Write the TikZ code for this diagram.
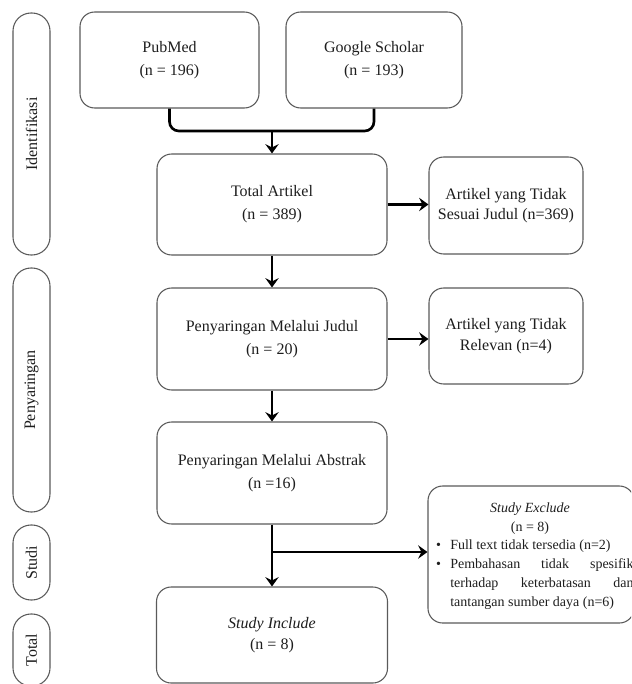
\documentclass[tikz,border=0pt]{standalone}
\usepackage{fontspec}
\setmainfont{Liberation Serif}
\usetikzlibrary{arrows.meta}
\definecolor{boxgray}{HTML}{5A5A5A}
\definecolor{txt}{HTML}{1E1E1E}
\begin{document}
\begin{tikzpicture}[x=0.75pt,y=-0.75pt,
  box/.style={draw=boxgray, line width=0.8pt, rounded corners=11pt, align=center, inner sep=2pt, text=txt, font=\fontsize{12}{17.25}\selectfont},
  sidebox/.style={box, font=\fontsize{12}{15.5}\selectfont},
  pill/.style={draw=boxgray, line width=0.8pt, rounded corners=13.5pt, rotate=90, minimum height=27.75pt, inner sep=0pt, text=txt, font=\fontsize{12}{14}\selectfont},
  smalltext/.style={text=txt, inner sep=0pt, font=\fontsize{10.5}{14.25}\selectfont},
  arr/.style={line width=2pt, -{Stealth[length=7pt,width=10pt,inset=2.5pt]}},
  link/.style={line width=2pt, rounded corners=7pt}]
\useasboundingbox (0,0) rectangle (631,684);
\fill[white] (0,0) rectangle (631,684);
\clip (0,0) rectangle (631,684);

% side lanes
\node[pill, minimum width=181.5pt] (lid) at (31.5,134) {Identifikasi};
\node[pill, minimum width=183pt] (lpe) at (31.5,390) {Penyaringan};
\node[pill, minimum width=56.25pt] (lst) at (31.5,562.5) {Studi};
\node[pill, minimum width=54pt] (lto) at (31.5,650) {Total};

% boxes
\node[box, minimum width=134.25pt, minimum height=72pt] (pub) at (169.5,60) {PubMed\\(n = 196)};
\node[box, minimum width=132pt, minimum height=72pt] (gs) at (374,60) {Google Scholar\\(n = 193)};
\node[box, minimum width=172.5pt, minimum height=75.75pt] (total) at (272,204.5) {Total Artikel\\(n = 389)};
\node[sidebox, minimum width=115.5pt, minimum height=72.75pt] (tidak) at (506,205.5) {Artikel yang Tidak\\Sesuai Judul (n=369)};
\node[box, minimum width=172.5pt, minimum height=76.5pt] (judul) at (272,339) {Penyaringan Melalui Judul\\(n = 20)};
\node[sidebox, minimum width=115.5pt, minimum height=72pt] (relevan) at (506,336) {Artikel yang Tidak\\Relevan (n=4)};
\node[box, minimum width=172.5pt, minimum height=76.5pt] (abstrak) at (272,473) {Penyaringan Melalui Abstrak\\(n =16)};
\node[sidebox, minimum width=173.25pt, minimum height=72pt] (include) at (272,635) {\textit{Study Include}\\(n = 8)};

% exclude box
\node[draw=boxgray, line width=0.8pt, rounded corners=11pt, minimum width=154.5pt, minimum height=102.75pt] (ex) at (531,554.5) {};
\node[smalltext, align=center] (extitle) at (530,518.5) {\textit{Study Exclude}\\(n = 8)};
\node[smalltext, anchor=north west, text width=137.5pt, align=justify] (exlist) at (450,540)
  {\hyphenpenalty=10000\leavevmode\llap{•\hspace{7pt}}Full text tidak tersedia (n=2)\par
   \leavevmode\llap{•\hspace{7pt}}Pembahasan tidak spesifik\linebreak terhadap keterbatasan dan\linebreak tantangan sumber daya (n=6)};

% connectors
\coordinate (mj) at (272,131);
\draw[link] (pub.south) -- (pub.south |- mj) -- (gs.south |- mj) -- (gs.south);
\draw[arr] (mj) -- (total.north);
\draw[arr] (total.east) -- (total.east -| tidak.west);
\draw[arr] (total.south) -- (judul.north);
\draw[arr] (judul.east) -- (judul.east -| relevan.west);
\draw[arr] (judul.south) -- (abstrak.north);
\draw[arr] (abstrak.south) -- (include.north);
\coordinate (br) at (272,552);
\draw[arr] (br) -- (br -| ex.west);
\end{tikzpicture}
\end{document}
